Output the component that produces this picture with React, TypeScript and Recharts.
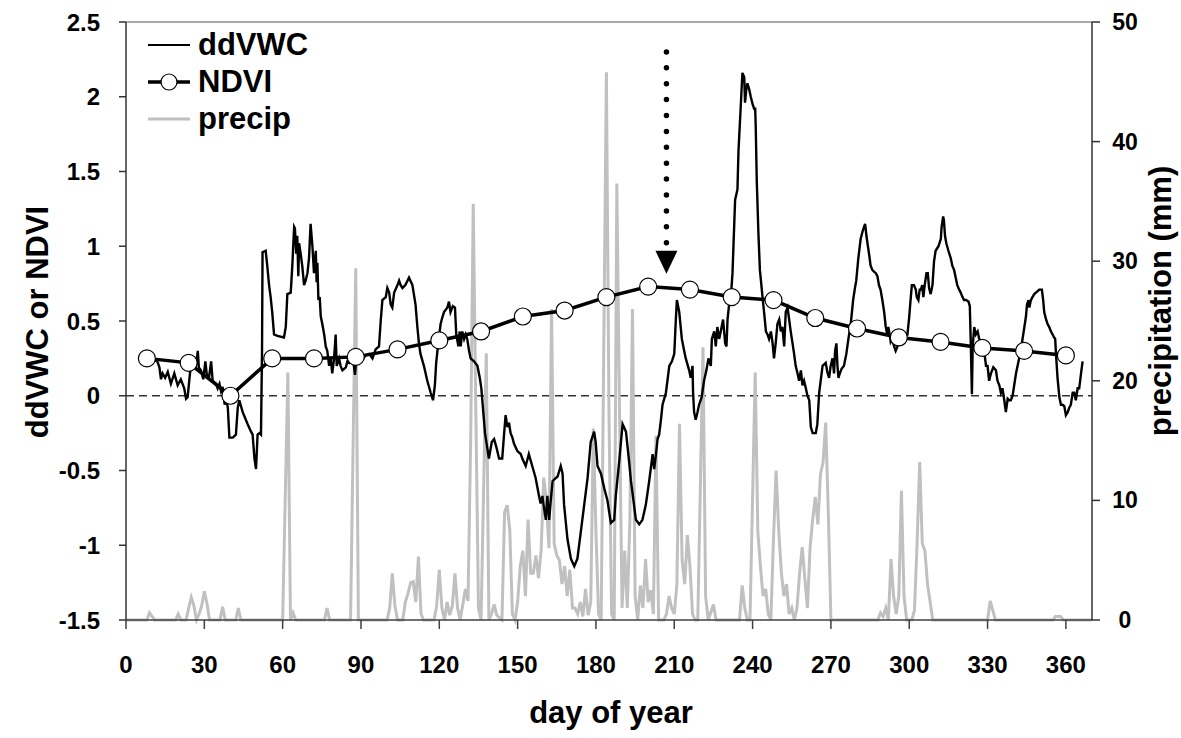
import React from "react";
import {
  ComposedChart,
  Line,
  XAxis,
  YAxis,
  ReferenceLine,
  ReferenceDot,
  Legend,
} from "recharts";

const FONT = "'Liberation Sans', Arial, sans-serif";

const dayTicks = [0, 30, 60, 90, 120, 150, 180, 210, 240, 270, 300, 330, 360];
const leftTicks = [-1.5, -1, -0.5, 0, 0.5, 1, 1.5, 2, 2.5];
const rightTicks = [0, 10, 20, 30, 40, 50];

// NDVI composites, every 16 days
const ndviDays = [8, 24, 40, 56, 72, 88, 104, 120, 136, 152, 168, 184, 200, 216, 232, 248, 264, 280, 296, 312, 328, 344, 360];
const ndviValues = [0.25, 0.22, 0.0, 0.25, 0.25, 0.26, 0.31, 0.37, 0.43, 0.53, 0.57, 0.66, 0.73, 0.71, 0.66, 0.64, 0.52, 0.45, 0.39, 0.36, 0.32, 0.3, 0.27];

// [day, ddVWC]
const ddvwc: [number, number][] = [
  [9, 0.25], [12, 0.23], [12.8, 0.19], [13.4, 0.11], [14, 0.15], [15, 0.12], [16, 0.16], [17.2, 0.08], [18.5, 0.15],
  [19.8, 0.07], [21, 0.11], [22.3, 0.05], [23, -0.02], [23.6, -0.01], [24.5, 0.15], [25.5, 0.25], [26.2, 0.21],
  [26.8, 0.2], [27.5, 0.3], [27.9, 0.19], [28.7, 0.17], [29.6, 0.11], [30.4, 0.23], [30.9, 0.15], [31.7, 0.11],
  [32.6, 0.23], [33.2, 0.1], [34.5, 0.08], [35.1, 0.05], [35.8, 0.08], [36.4, 0.03], [37, 0.06], [37.8, -0.06],
  [38.3, -0.01], [39, -0.08], [39.6, -0.28], [40.9, -0.28], [42.1, -0.26], [42.8, -0.08], [43.4, -0.03],
  [44.7, -0.11], [46.6, -0.19], [47.9, -0.24], [48.5, -0.26], [49.2, -0.42], [49.8, -0.49], [50.4, -0.26],
  [51.1, -0.25], [51.7, -0.26], [52.1, 0.3], [52.3, 0.96],
  [53.5, 0.97], [54.1, 0.87], [54.8, 0.74], [55.4, 0.66], [56, 0.56], [56.7, 0.41], [58, 0.4], [60.5, 0.39],
  [61.2, 0.46], [61.8, 0.68], [63.1, 0.69], [63.7, 0.87], [64.4, 1.13], [64.7, 1.12], [65.2, 0.95], [65.6, 1.07],
  [66, 0.8], [66.3, 1.02], [66.9, 0.95], [67.5, 0.87], [68.2, 0.74], [68.8, 0.77], [69.5, 0.82], [70.1, 0.92],
  [70.7, 1.15], [71.4, 1.0], [72, 0.82], [72.7, 0.97], [73, 0.76], [73.3, 0.89], [73.7, 0.64], [74.2, 0.66],
  [74.6, 0.53], [75.2, 0.48], [75.9, 0.41], [76.5, 0.33], [77.1, 0.3], [77.8, 0.2], [78.4, 0.25], [79, 0.15],
  [79.7, 0.25], [80.3, 0.41], [80.7, 0.2], [81.6, 0.25], [82.2, 0.2], [82.9, 0.17], [84.2, 0.19], [84.8, 0.23],
  [85.5, 0.22], [86.7, 0.25], [87.3, 0.2], [87.7, 0.14], [88.2, 0.25], [89.3, 0.28], [90.5, 0.24], [91.8, 0.27],
  [93.1, 0.28], [94.4, 0.25], [95.6, 0.31], [96.9, 0.33], [97.6, 0.51], [98.2, 0.64], [99.5, 0.66], [100.1, 0.72],
  [100.8, 0.69], [101.4, 0.61], [102, 0.59], [102.7, 0.69], [104, 0.74], [104.6, 0.77], [105.2, 0.74],
  [105.9, 0.72], [107, 0.74],
  [108.4, 0.79], [109.7, 0.74], [110.9, 0.61], [111.6, 0.46], [112.2, 0.35], [112.8, 0.28], [114.1, 0.2],
  [115.4, 0.1], [116.7, 0.02], [117.6, -0.03], [118.3, 0.07], [118.8, 0.22], [119.6, 0.35], [120.5, 0.48],
  [121.1, 0.52], [121.8, 0.56], [123.1, 0.59], [123.7, 0.63], [124.3, 0.56], [125.2, 0.6], [126, 0.59],
  [126.5, 0.41], [127.3, 0.33], [127.8, 0.43], [128.2, 0.33], [128.8, 0.43], [129.5, 0.38], [130.1, 0.41],
  [130.7, 0.38], [131.4, 0.3], [132, 0.25], [133.3, 0.23], [134.6, 0.2], [135.5, 0.12], [136.1, 0.05],
  [137.5, -0.25], [139, -0.42], [140.1, -0.31], [141, -0.29], [141.8, -0.34], [142.9, -0.42], [144.1, -0.42],
  [144.8, -0.26], [145.4, -0.13], [146.1, -0.21], [146.7, -0.18], [147.3, -0.25], [148, -0.28], [148.6, -0.32],
  [149.9, -0.37], [151.2, -0.39], [151.8, -0.42], [153.1, -0.47], [154.3, -0.39], [155.6, -0.47], [156.9, -0.55],
  [158.2, -0.67], [158.8, -0.72], [159.5, -0.67], [160.1, -0.75],
  [160.8, -0.83], [161.4, -0.67], [162.1, -0.83], [162.7, -0.7], [163.4, -0.57], [165.3, -0.54], [166.5, -0.47],
  [167.2, -0.52], [167.8, -0.73], [169.1, -0.96], [170.4, -1.09], [171.7, -1.14], [172.9, -1.09], [174.2, -0.91],
  [175.5, -0.73], [176.8, -0.55], [178, -0.31], [179.3, -0.24], [179.9, -0.31], [180.6, -0.47], [181.9, -0.52],
  [183.2, -0.62], [184.4, -0.7], [185.7, -0.85], [187, -0.83], [187.6, -0.67], [188.9, -0.44], [190.2, -0.19],
  [191.5, -0.24], [192.1, -0.34], [192.7, -0.44], [193.4, -0.57], [194, -0.65], [195.3, -0.83], [196.6, -0.86],
  [197.8, -0.83], [199.1, -0.73], [200.4, -0.57], [201.7, -0.39], [202.3, -0.49], [203, -0.39], [203.6, -0.29],
  [204.2, -0.26], [204.9, -0.16], [205.5, -0.06], [206.8, 0.02], [208.1, 0.2], [209.1, 0.23], [210, 0.28],
  [210.6, 0.51], [211, 0.64], [211.9, 0.56], [212.9, 0.38], [213.8, 0.3],
  [214.4, 0.25], [215.7, 0.17], [216.3, 0.12], [217, 0.2], [217.2, 0.02], [217.6, -0.11], [218.2, -0.16],
  [218.9, -0.11], [219.5, -0.06], [220.5, -0.01], [221.4, 0.1], [222.3, 0.17], [223.1, 0.25], [224, 0.2],
  [224.4, 0.38], [225.3, 0.43], [225.9, 0.33], [226.5, 0.46], [227.2, 0.38], [227.8, 0.43], [228.7, 0.51],
  [229.5, 0.35], [230, 0.33], [230.4, 0.51], [231, 0.61], [231.6, 0.64], [232.3, 0.82], [233.3, 1.31],
  [234.2, 1.38], [234.6, 1.64], [235.5, 1.95], [236.1, 2.16], [236.8, 2.13], [237.1, 1.96], [237.6, 2.05],
  [238, 2.09], [238.7, 2.05], [239.3, 2.0], [240, 1.95], [240.6, 1.92], [241, 1.92], [241.2, 1.8], [241.6, 1.44],
  [242.2, 1.1], [242.8, 0.84], [243.2, 0.77], [243.8, 0.66], [244.4, 0.56], [245.1, 0.43], [245.7, 0.41],
  [246.3, 0.38], [247, 0.43], [247.6, 0.36], [248.2, 0.25], [248.9, 0.36], [249.5, 0.48], [250.2, 0.51],
  [250.8, 0.43], [251.4, 0.46], [252.1, 0.33], [252.7, 0.56], [253.4, 0.59], [254, 0.51], [254.6, 0.43],
  [255.3, 0.35], [255.9, 0.28], [256.5, 0.2], [257.2, 0.15], [257.8, 0.1], [258.5, 0.17], [259.1, 0.07],
  [259.7, 0.1], [260.4, 0.05], [261, 0.0], [261.7, -0.03], [262.3, -0.21], [263, -0.25], [264.2, -0.25],
  [264.8, -0.19], [265.5, 0.02], [266.8, 0.2], [268, 0.22],
  [268.6, 0.16], [269.3, 0.12], [269.9, 0.2], [270.6, 0.25], [271.2, 0.15], [271.6, 0.3], [272.1, 0.35],
  [272.5, 0.2], [272.9, 0.12], [273.4, 0.15], [274.1, 0.18], [275, 0.2], [275.9, 0.28], [276.7, 0.38],
  [277.6, 0.48], [278.5, 0.64], [279.2, 0.72], [279.7, 0.77], [280.5, 0.92], [281.4, 1.05], [282.3, 1.11],
  [283.1, 1.15], [283.6, 1.07], [284, 1.02], [284.6, 0.95], [285.2, 0.87], [285.9, 0.84], [286.5, 0.83],
  [287.2, 0.82], [287.8, 0.8], [288.4, 0.74], [289, 0.71], [289.7, 0.64], [290.4, 0.56], [291, 0.46],
  [291.6, 0.41], [292, 0.46], [292.5, 0.41], [292.9, 0.36], [293.5, 0.38], [294.2, 0.33], [294.8, 0.3],
  [295.5, 0.33], [296.1, 0.35], [296.7, 0.38], [297.4, 0.41], [299.3, 0.41], [299.9, 0.51], [300.6, 0.66],
  [301, 0.74], [301.8, 0.74], [302.5, 0.71], [302.9, 0.66], [303.5, 0.64], [304, 0.71], [304.4, 0.71],
  [305, 0.74], [305.4, 0.66], [306, 0.75], [306.6, 0.82], [307.1, 0.82], [307.6, 0.72], [308.2, 0.68],
  [308.9, 0.74], [309.5, 0.9], [310.1, 0.97], [311.2, 1.0], [312.1, 1.05], [312.4, 1.13], [313, 1.2],
  [313.3, 1.17], [313.7, 1.07], [314.2, 1.02], [315, 0.97], [315.9, 0.92], [316.5, 0.87], [317.2, 0.84],
  [317.8, 0.79], [318.4, 0.74], [319.1, 0.71], [319.7, 0.69], [320.4, 0.66], [321, 0.64],
  [321.7, 0.64], [322.7, 0.63], [323.2, 0.6], [323.6, 0.33], [324, 0.01], [324.3, 0.33], [324.9, 0.46],
  [325.5, 0.41], [326.2, 0.43], [326.8, 0.38], [327.4, 0.35], [328.1, 0.33], [328.7, 0.3], [329.4, 0.2],
  [330, 0.2], [330.6, 0.1], [331.3, 0.15], [332.2, 0.19], [333.2, 0.17], [333.8, 0.1], [334.5, 0.07],
  [335.1, 0.02], [335.7, 0.05], [336.4, -0.03], [337, -0.11], [337.7, -0.02], [338.3, -0.03], [338.9, -0.03],
  [339.6, 0], [340.2, 0.07], [340.9, 0.15], [341.5, 0.2], [342.1, 0.25], [342.8, 0.3], [343.4, 0.38],
  [344.1, 0.46], [344.7, 0.53], [345.1, 0.61], [345.7, 0.64], [346, 0.59], [346.6, 0.64], [347.2, 0.66],
  [347.9, 0.68], [348.5, 0.69], [349.2, 0.7], [349.8, 0.71], [350.4, 0.71], [350.8, 0.71], [351.3, 0.64],
  [351.7, 0.56], [352.4, 0.51], [353, 0.48], [353.6, 0.46], [354.3, 0.43], [354.9, 0.41], [355.5, 0.39],
  [355.9, 0.38], [356.2, 0.28], [356.8, 0.12], [357.5, -0.01], [358.1, -0.06], [358.7, -0.06], [359.4, -0.07],
  [360, -0.13], [360.7, -0.11], [361.3, -0.08], [361.9, -0.06], [362.6, 0.02], [363.2, 0.02], [363.8, -0.03],
  [364.5, 0.05], [365.1, 0.05], [365.8, 0.15], [366.4, 0.23],
];

// [day, precipitation mm]
const precip: [number, number][] = [
  [0, 0], [8, 0], [9, 0.6], [10, 0.3], [11, 0], [19, 0], [20, 0.5], [21, 0], [23, 0], [24, 1.0], [25, 1.9],
  [26, 1.2], [27, 0], [28, 0.5], [29, 1.2], [30, 2.4], [31, 1.4], [32, 0], [36, 0], [37, 1.1], [38, 0], [42, 0],
  [43, 1.0], [44, 0], [60, 0], [61, 10.3], [62, 20.7], [63, 0], [64, 0.6], [65, 0], [76, 0], [77, 1.0], [78, 0],
  [86, 0], [87, 14.8], [88, 29.4], [89, 0], [100, 0], [101, 1.0], [102, 3.9], [103, 1.2], [104, 0], [106, 0],
  [107, 1.5], [108, 2.2], [109, 3.1], [110, 3.2], [111, 1.5], [112, 5.3], [113, 0.5], [114, 0], [118, 0],
  [119, 1.2], [120, 4.2], [121, 1.0], [122, 0], [123, 1.5], [124, 0.4], [125, 1.2], [126, 3.9], [127, 1.0],
  [128, 0], [129, 1.3], [130, 2.6], [131, 1.6], [132, 14.8], [133, 34.8], [134, 17.4], [135, 1.0], [136, 0],
  [137, 11.3], [138, 22.3], [139, 0], [140, 0.5], [141, 1.3], [142, 0.4], [144, 0], [145, 9.0], [146, 9.6],
  [147, 7.5], [148, 0.5], [149, 0], [150, 1.5], [151, 4.5], [152, 5.8], [153, 2.0], [154, 8.4], [155, 3.9],
  [156, 3.9], [157, 5.4], [158, 3.5], [159, 5.8], [160, 11.9], [161, 10.0], [162, 6.0], [163, 26.0], [164, 6.4],
  [165, 5.4], [166, 5.0], [167, 3.0], [168, 4.5], [169, 2.0], [170, 4.2], [171, 1.0], [172, 1.0], [173, 0.5],
  [174, 1.5], [175, 0.3], [176, 2.6], [177, 0.4], [178, 1.5], [179, 16.0], [180, 7.4], [181, 0.5], [182, 0],
  [183, 22.8], [184, 45.8], [185, 17.0], [186, 0.5], [187, 0], [188, 36.5], [189, 18.0], [190, 1.0], [191, 5.8],
  [192, 1.0], [193, 8.4], [194, 26.0], [195, 2.0], [196, 0], [197, 2.9], [198, 1.0], [199, 5.1], [200, 1.5],
  [201, 2.5], [202, 0.5], [203, 15.4], [204, 0], [206, 0], [207, 0.5], [208, 2.0], [209, 1.0], [210, 0.5],
  [211, 3.0], [212, 16.4], [213, 5.0], [214, 3.0], [215, 7.1], [216, 4.5], [217, 0.5], [218, 0], [219, 0],
  [220, 11.3], [221, 22.8], [222, 2.0], [223, 0], [225, 1.3], [226, 0], [235, 0], [236, 2.9], [237, 1.0],
  [238, 0], [239, 0], [240, 10.3], [241, 20.7], [242, 7.4], [243, 4.5], [244, 2.0], [245, 2.6], [246, 0.5],
  [247, 0], [248, 6.8], [249, 12.5], [250, 7.5], [251, 4.0], [252, 2.0], [253, 3.0], [254, 0.5], [255, 1.0],
  [256, 0], [257, 1.0], [258, 3.9], [259, 6.1], [260, 3.5], [261, 1.0], [262, 6.0], [263, 8.4], [264, 10.3],
  [265, 8.0], [266, 12.2], [267, 13.2], [268, 16.5], [269, 9.0], [270, 0], [288, 0], [289, 0.6], [290, 0.3],
  [291, 1.0], [292, 0], [293, 5.1], [294, 2.0], [295, 0.5], [296, 2.0], [297, 10.8], [298, 2.0], [299, 0],
  [301, 0], [302, 0.8], [303, 6.4], [304, 13.2], [305, 6.4], [306, 5.8], [307, 3.0], [308, 1.5], [309, 0],
  [330, 0], [331, 1.6], [332, 0.8], [333, 0], [355, 0], [356, 0.3], [358, 0.3], [359, 0], [370, 0],
];

// dotted arrow marking the NDVI peak
const arrowDay = 207;
const arrowTop = 2.3;
const arrowBottom = 1.02;
const arrowHead = 0.97;

const ndviData = ndviDays.map((day, i) => ({ day, ndvi: ndviValues[i] }));
const vwcData = ddvwc.map(([day, v]) => ({ day, ddvwc: v }));
const precipData = precip.map(([day, mm]) => ({ day, precip: mm }));

const tickStyle = { fill: "#000", fontSize: 23, fontWeight: 700, fontFamily: FONT };
const leftTickStyle = { ...tickStyle, fontSize: 24 };
const titleStyle = { fontFamily: FONT, fontWeight: 700, fontSize: 31, whiteSpace: "nowrap" as const };

const RightTick = (props: any) => {
  const { x, y, payload } = props;
  return (
    <text x={x + 12} y={y} dy="0.35em" textAnchor="middle" style={tickStyle as any}>
      {payload.value}
    </text>
  );
};

const Arrowhead = (props: any) => {
  const { cx, cy } = props;
  return <polygon points={`${cx - 11},${cy} ${cx + 11},${cy} ${cx},${cy + 23}`} fill="#000" />;
};

const legendItems = [
  { name: "ddVWC", color: "#000", width: 2.2, marker: false },
  { name: "NDVI", color: "#000", width: 3.5, marker: true },
  { name: "precip", color: "#c0c0c0", width: 3, marker: false },
];

const LegendBox = () => (
  <div style={{ fontFamily: FONT, fontWeight: 700, fontSize: 31 }}>
    {legendItems.map((it) => (
      <div key={it.name} style={{ display: "flex", alignItems: "center", height: 37 }}>
        <svg width={48} height={20} style={{ marginRight: 4 }}>
          <line x1={2} y1={10} x2={44} y2={10} stroke={it.color} strokeWidth={it.width} />
          {it.marker && <circle cx={23} cy={10} r={8} fill="#fff" stroke="#000" strokeWidth={1.2} />}
        </svg>
        <span>{it.name}</span>
      </div>
    ))}
  </div>
);

export default function App() {
  return (
    <div style={{ position: "relative", width: 1181, height: 738, background: "#fff" }}>
      <style>{"body{margin:0}"}</style>
      <ComposedChart width={1181} height={738} margin={{ top: 22, right: 29, bottom: 18, left: 46 }}>
        <XAxis
          type="number"
          dataKey="day"
          domain={[0, 370]}
          ticks={dayTicks}
          allowDataOverflow
          height={100}
          stroke="#404040"
          strokeWidth={1.5}
          tickSize={9}
          tickMargin={27}
          tick={leftTickStyle}
        />
        <YAxis
          yAxisId="left"
          domain={[-1.5, 2.5]}
          ticks={leftTicks}
          width={80}
          stroke="#333"
          strokeWidth={1.5}
          tickSize={7}
          tickMargin={19}
          tick={leftTickStyle}
        />
        <YAxis
          yAxisId="right"
          orientation="right"
          domain={[0, 50]}
          ticks={rightTicks}
          width={60}
          stroke="#333"
          strokeWidth={1.5}
          tickSize={8}
          tickMargin={13}
          tick={<RightTick />}
        />
        <ReferenceLine yAxisId="left" y={2.5} stroke="#a8a8a8" strokeWidth={2} />
        <ReferenceLine yAxisId="left" y={0} stroke="#333" strokeWidth={1.3} strokeDasharray="8 5" />
        <Line
          yAxisId="right"
          data={precipData}
          dataKey="precip"
          type="linear"
          stroke="#c0c0c0"
          strokeWidth={3}
          dot={false}
          activeDot={false}
          isAnimationActive={false}
        />
        <Line
          yAxisId="left"
          data={vwcData}
          dataKey="ddvwc"
          type="linear"
          stroke="#000"
          strokeWidth={2.4}
          dot={false}
          activeDot={false}
          isAnimationActive={false}
        />
        <Line
          yAxisId="left"
          data={ndviData}
          dataKey="ndvi"
          type="linear"
          stroke="#000"
          strokeWidth={3.5}
          dot={{ r: 8.5, fill: "#fff", stroke: "#000", strokeWidth: 1.2 }}
          activeDot={false}
          isAnimationActive={false}
        />
        <ReferenceLine
          yAxisId="left"
          segment={[
            { x: arrowDay, y: arrowTop },
            { x: arrowDay, y: arrowBottom },
          ]}
          stroke="#000"
          strokeWidth={5.5}
          strokeDasharray="0 15.9"
          strokeLinecap="round"
        />
        <ReferenceDot yAxisId="left" x={arrowDay} y={arrowHead} shape={<Arrowhead />} />
        <Legend
          layout="horizontal"
          verticalAlign="middle"
          align="center"
          content={<LegendBox />}
          wrapperStyle={{ left: 146, top: 26, width: "auto" }}
        />
      </ComposedChart>
      <div style={{ ...titleStyle, position: "absolute", left: 38, top: 322, transform: "translate(-50%, -50%) rotate(-90deg)" }}>
        ddVWC or NDVI
      </div>
      <div style={{ ...titleStyle, position: "absolute", left: 1161, top: 301, transform: "translate(-50%, -50%) rotate(-90deg)" }}>
        precipitation (mm)
      </div>
      <div style={{ ...titleStyle, position: "absolute", left: 611, top: 713, transform: "translate(-50%, -50%)" }}>
        day of year
      </div>
    </div>
  );
}
